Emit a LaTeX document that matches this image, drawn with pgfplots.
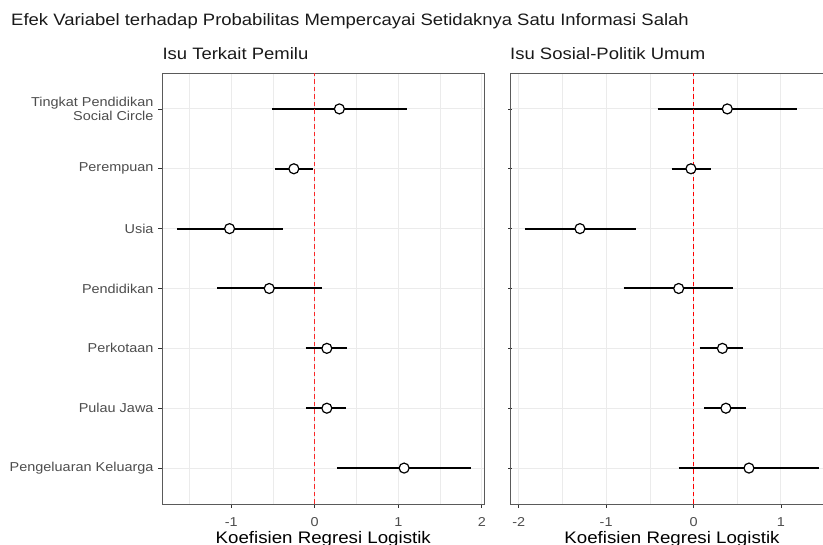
\documentclass[border=0pt]{standalone}
\usepackage{pgfplots}
\pgfplotsset{compat=1.18}
\usepackage{pgfplotstable}
\usepackage{fontspec}
\setmainfont{Liberation Sans}[FakeStretch=1.12]
\definecolor{gridc}{HTML}{EBEBEB}
\definecolor{tickc}{HTML}{4D4D4D}
\definecolor{borderc}{HTML}{5A5A5A}
\definecolor{vred}{RGB}{250,40,40}

% point estimates
\pgfplotstableread{
pos est
7 0.295
6 -0.25
5 -1.02
4 -0.545
3 0.145
2 0.145
1 1.07
}\lefttab
% confidence intervals (lo, hi) as segments
\pgfplotstableread{
x y
-0.51 7
1.11 7
nan nan
-0.475 6
-0.025 6
nan nan
-1.645 5
-0.38 5
nan nan
-1.17 4
0.085 4
nan nan
-0.11 3
0.39 3
nan nan
-0.105 2
0.38 2
nan nan
0.265 1
1.87 1
}\leftci

\pgfplotstableread{
pos est
7 0.386
6 -0.03
5 -1.30
4 -0.17
3 0.33
2 0.37
1 0.634
}\righttab
\pgfplotstableread{
x y
-0.41 7
1.18 7
nan nan
-0.25 6
0.20 6
nan nan
-1.93 5
-0.66 5
nan nan
-0.80 4
0.45 4
nan nan
0.07 3
0.57 3
nan nan
0.125 2
0.60 2
nan nan
-0.17 1
1.44 1
}\rightci

\pgfplotsset{
  facet/.style={
    anchor=south west,
    scale only axis,
    height=431pt,
    ymin=0.4, ymax=7.6,
    ytick={1,2,3,4,5,6,7},
    minor xtick={-1.5,-0.5,0.5,1.5},
    xmajorgrids, ymajorgrids, xminorgrids,
    major grid style={color=gridc, line width=1pt},
    minor grid style={color=gridc, line width=0.5pt},
    tick align=outside, tick pos=left,
    major tick length=4pt, minor tick length=0pt,
    tick style={color=black!80, line width=0.8pt},
    axis line style={color=borderc, line width=0.9pt},
    unbounded coords=jump,
    /pgf/number format/assume math mode=true,
    xticklabel style={font=\fontsize{12.9}{14.3}\selectfont, text=tickc, anchor=base, inner sep=0pt, yshift=-18.7pt},
    yticklabel style={font=\fontsize{12.9}{14.3}\selectfont, text=tickc, anchor=east, align=right, inner sep=0pt, xshift=-4.6pt},
    xlabel={Koefisien Regresi Logistik},
  },
  xlab/.style={every axis x label/.style={at={(axis description cs:#1,0)}, anchor=base, yshift=-39.3pt, font=\fontsize{16.7}{18}\selectfont, text=black}},
  vline/.style={draw=#1, color=#1, line width=1.2pt, dash pattern=on 4.5pt off 3pt, mark=none},
  cil/.style={color=black, line width=2pt, mark=none, solid},
  pt/.style={only marks, mark=*, mark size=5pt,
    mark options={fill=white, draw=black, line width=1.2pt, solid}},
}

\begin{document}
\begin{tikzpicture}
\useasboundingbox (0pt,0pt) rectangle (823pt,545pt);

\begin{axis}[facet, at={(162.3pt,41pt)}, width=322pt,
  xmin=-1.825, xmax=2.03,
  xtick={-1,0,1,2},
  yticklabels={Pengeluaran Keluarga, Pulau Jawa, Perkotaan, Pendidikan, Usia, Perempuan, {Tingkat Pendidikan\\Social Circle}},
  xlab=0.5,
]
\addplot[cil] table[x=x, y=y] {\leftci};
\addplot[vline=vred] coordinates {(0,0.4) (0,7.6)};
\addplot[pt] table[x=est, y=pos] {\lefttab};
\end{axis}

\begin{axis}[facet, at={(510pt,41pt)}, width=313pt,
  xmin=-2.10, xmax=1.481,
  xtick={-2,-1,0,1},
  yticklabels={},
  axis x line=box, axis y line=left, y axis line style={-},
  xlab=0.5176,
]
\addplot[cil] table[x=x, y=y] {\rightci};
\addplot[vline=red] coordinates {(0,0.4) (0,7.6)};
\addplot[pt] table[x=est, y=pos] {\righttab};
\end{axis}

\node[anchor=base west, inner sep=0pt, font=\fontsize{16.5}{18}\selectfont, text=black!90] at (11pt,519.3pt)
  {Efek Variabel terhadap Probabilitas Mempercayai Setidaknya Satu Informasi Salah};
\node[anchor=base west, inner sep=0pt, font=\fontsize{16.5}{18}\selectfont, text=black!90] at (162.3pt,485.7pt)
  {Isu Terkait Pemilu};
\node[anchor=base west, inner sep=0pt, font=\fontsize{16.5}{18}\selectfont, text=black!90] at (510pt,485.7pt)
  {Isu Sosial-Politik Umum};
\end{tikzpicture}
\end{document}
